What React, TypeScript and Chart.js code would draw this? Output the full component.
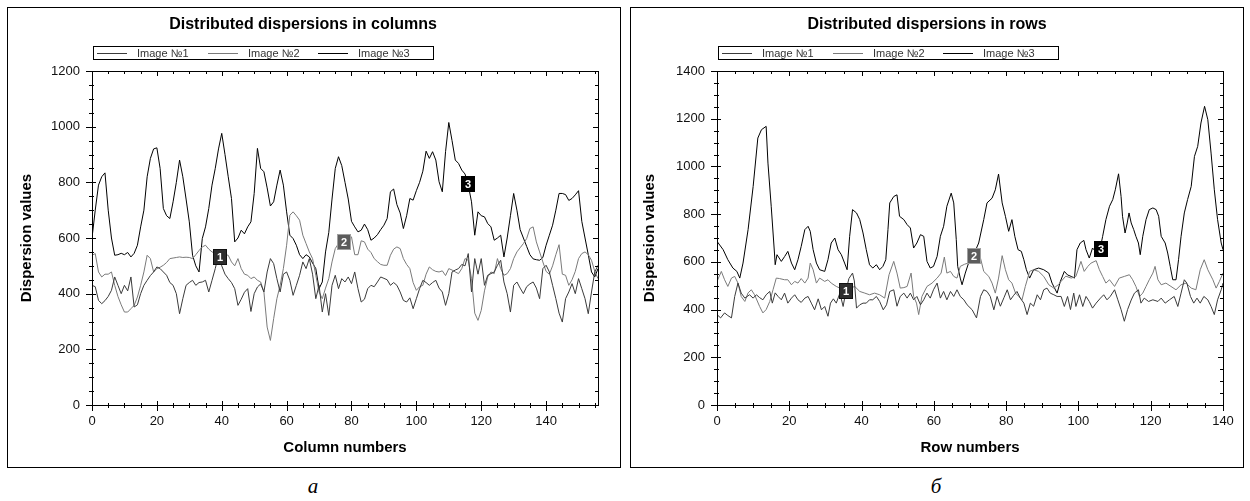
import React, { useEffect, useRef } from 'react';
import { Chart, registerables } from 'chart.js';

Chart.register(...registerables);

// ---------- Left chart: dispersions in columns ----------
const columnNumbers = [
  0, 1, 2, 3, 4, 5, 6, 7, 8, 9, 10, 11, 12, 13, 14, 15, 16, 17, 18, 19,
  20, 21, 22, 23, 24, 25, 26, 27, 28, 29, 30, 31, 32, 33, 34, 35, 36, 37, 38, 39,
  40, 41, 42, 43, 44, 45, 46, 47, 48, 49, 50, 51, 52, 53, 54, 55, 56, 57, 58, 59,
  60, 61, 62, 63, 64, 65, 66, 67, 68, 69, 70, 71, 72, 73, 74, 75, 76, 77, 78, 79,
  80, 81, 82, 83, 84, 85, 86, 87, 88, 89, 90, 91, 92, 93, 94, 95, 96, 97, 98, 99,
  100, 101, 102, 103, 104, 105, 106, 107, 108, 109, 110, 111, 112, 113, 114, 115, 116, 117, 118, 119,
  120, 121, 122, 123, 124, 125, 126, 127, 128, 129, 130, 131, 132, 133, 134, 135, 136, 137, 138, 139,
  140, 141, 142, 143, 144, 145, 146, 147, 148, 149, 150, 151, 152, 153, 154, 155, 156,
];

const colImage1 = [
  430, 425, 376, 364, 375, 390, 412, 460, 430, 400,
  430, 410, 460, 352, 360, 400, 430, 448, 465, 478,
  496, 490, 478, 466, 440, 430, 400, 328, 382, 430,
  440, 448, 430, 440, 442, 448, 406, 448, 490, 540,
  500, 470, 454, 440, 418, 358, 380, 405, 418, 336,
  400, 424, 435, 406, 478, 526, 508, 454, 406, 470,
  478, 448, 394, 430, 466, 514, 490, 526, 470, 382,
  430, 334, 400, 322, 430, 466, 418, 454, 442, 460,
  436, 478, 418, 370, 380, 418, 430, 425, 442, 460,
  455, 450, 430, 440, 430, 406, 376, 370, 385, 346,
  382, 418, 448, 440, 430, 440, 448, 420, 406, 358,
  400, 478, 485, 490, 505, 500, 544, 406, 526, 470,
  526, 430, 466, 472, 478, 502, 520, 442, 400, 334,
  430, 442, 420, 400, 425, 435, 442, 420, 382, 490,
  502, 478, 430, 382, 330, 298, 382, 406, 436, 400,
  454, 418, 382, 328, 406, 478, 502,
];

const colImage2 = [
  538, 544, 478, 460, 470, 470, 478, 430, 390, 360,
  334, 334, 346, 358, 388, 430, 478, 538, 526, 478,
  490, 495, 502, 512, 526, 528, 530, 532, 530, 531,
  530, 526, 540, 555, 568, 574, 560, 550, 545, 540,
  535, 540, 538, 514, 500, 526, 490, 470, 466, 454,
  460, 448, 442, 406, 280, 232, 310, 382, 430, 490,
  574, 682, 694, 680, 664, 610, 580, 550, 526, 466,
  406, 382, 420, 454, 514, 562, 580, 585, 590, 600,
  604, 540, 540, 590, 586, 560, 548, 526, 515, 505,
  502, 502, 538, 560, 568, 562, 526, 505, 490, 440,
  412, 425, 430, 470, 496, 486, 480, 478, 482, 465,
  490, 485, 478, 472, 490, 526, 520, 454, 330, 304,
  340, 410, 460, 478, 472, 526, 490, 466, 472, 490,
  526, 550, 565, 580, 598, 634, 640, 586, 550, 514,
  480, 470, 500, 540, 576, 470, 466, 430, 450, 480,
  526, 544, 550, 540, 520, 480, 454,
];

const colImage3 = [
  600, 700, 790, 820, 834, 700, 600, 538, 540, 545,
  540, 548, 532, 545, 574, 640, 700, 820, 886, 920,
  924, 850, 706, 680, 670, 730, 800, 880, 820, 740,
  658, 538, 500, 478, 598, 640, 706, 790, 850, 920,
  976, 900, 820, 742, 586, 600, 628, 615, 640, 658,
  760, 922, 850, 838, 780, 715, 730, 790, 844, 790,
  694, 610, 598, 574, 540, 526, 540, 532, 510, 490,
  418, 442, 550, 620, 740, 850, 892, 860, 800, 740,
  660, 640, 622, 628, 650, 630, 592, 600, 612, 630,
  646, 670, 766, 776, 720, 690, 634, 680, 742, 736,
  770, 800, 840, 912, 886, 910, 880, 802, 766, 910,
  1015, 950, 880, 868, 844, 830, 790, 730, 610, 694,
  680, 676, 652, 640, 592, 600, 610, 532, 600, 680,
  760, 700, 630, 600, 570, 540, 525, 522, 520, 530,
  574, 610, 646, 700, 760, 760, 756, 735, 742, 755,
  770, 660, 600, 540, 478, 460, 490,
];

const colMarkX = [39.4, 77.7, 115.9];
const colMarkY = [532, 586, 794];

// ---------- Right chart: dispersions in rows ----------
const rowX1 = [
  0, 1, 2.1, 3, 4, 4.9, 5.8, 6.7, 7.7, 9, 10, 10.9, 11.8, 12.7, 13.6, 14.6, 15.3, 16.1, 16.9, 17.8,
  18.7, 19.6, 20.6, 21.5, 22.4, 23.3, 24.3, 25.2, 26.1, 27, 28, 28.9, 29.8, 30.7, 31.4, 32.2, 33, 34, 34.9, 35.7,
  36.5, 37.5, 38, 38.6, 39.5, 40.4, 41.3, 42.2, 43.1, 44.1, 45, 46, 46.9, 47.8, 48.9, 49.8, 50.7, 51.7, 52.6, 53.5,
  54.4, 55.3, 56.3, 57.2, 58.1, 59, 59.9, 60.9, 61.8, 62.7, 63.6, 64.6, 65.5, 66.4, 67.3, 68.3, 69.2, 70.6, 71.8, 72.9,
  73.8, 74.7, 75.6, 76.6, 77.5, 78.4, 79.4, 80.3, 81.2, 82.1, 83, 83.9, 84.9, 85.8, 86.7, 87.6, 88.6, 89.5, 90.4, 91.3,
  92.2, 93.2, 94.1, 95.2, 96.1, 97, 97.8, 98.7, 99.3, 100.3, 101.2, 102.1, 103, 103.9, 104.9, 106.1, 107, 107.9, 108.8, 110,
  110.9, 111.8, 112.7, 113.6, 114.6, 115.5, 116.6, 117.3, 118.2, 119.4, 120.6, 122, 122.9, 124, 125.2, 126.5, 127.5, 128.4, 129.3, 130,
  131, 131.9, 132.8, 133.7, 134.7, 135.8, 136.7, 137.6, 138.5, 139.5, 140,
];
const rowY1 = [
  379, 365, 386, 375, 365, 455, 511, 469, 448, 462, 448, 462, 450, 441, 462, 476, 427, 470, 455, 441,
  469, 427, 448, 462, 441, 430, 448, 455, 427, 399, 445, 399, 413, 372, 427, 445, 427, 469, 413, 480,
  530, 553, 520, 406, 420, 427, 427, 441, 441, 455, 434, 399, 420, 476, 483, 414, 455, 469, 448, 469,
  441, 455, 420, 441, 469, 448, 483, 511, 448, 476, 441, 476, 455, 483, 455, 441, 420, 399, 365, 455,
  483, 476, 455, 399, 455, 414, 450, 483, 441, 460, 476, 448, 427, 379, 427, 414, 462, 441, 483, 490,
  469, 462, 455, 455, 413, 455, 400, 469, 413, 462, 413, 455, 434, 406, 427, 448, 462, 441, 455, 483,
  441, 400, 351, 400, 440, 469, 483, 427, 448, 434, 441, 434, 448, 427, 441, 455, 413, 469, 525, 511,
  455, 427, 448, 427, 455, 441, 413, 379, 441, 483, 511,
];

const rowX2 = [
  0, 1.2, 2.1, 3, 4, 4.9, 5.8, 6.7, 7.7, 8.6, 9.5, 10.4, 11.8, 12.7, 13.6, 14.6, 15.5, 16.4, 17.3, 18.7,
  19.6, 20.6, 21.5, 22.4, 23.3, 24.3, 25.2, 25.8, 26.6, 27.5, 28.4, 29.8, 30.7, 31.6, 33, 34, 35, 36, 37, 38.1,
  39.5, 40.9, 42.2, 43.6, 45, 46.4, 47.6, 48.9, 49.8, 50.7, 51.7, 52.6, 53.7, 54.4, 55.2, 55.8, 56.7, 58.1, 59.5, 60.9,
  62, 62.9, 63.6, 64.6, 65.5, 66.4, 67.3, 68.5, 69.5, 71, 72.9, 73.8, 75.2, 76.1, 77, 77.9, 78.9, 79.8, 80.7, 81.6,
  82.6, 83.5, 84.4, 85.3, 86.5, 87.6, 89, 90.4, 91.8, 93.2, 94.5, 95.2, 96.5, 98, 99.3, 100.7, 101.6, 102.6, 103.5, 104.9,
  105.8, 106.7, 107.6, 108.6, 110, 111.3, 112.7, 114.1, 115, 115.9, 116.9, 117.8, 118.7, 119.6, 120.6, 121.2, 122, 122.9, 124.2, 125.6,
  127, 128.4, 129.8, 131.2, 132.5, 133.7, 134.8, 135.8, 137.2, 138.1, 139, 140,
];
const rowY2 = [
  518, 560, 525, 497, 532, 539, 511, 455, 434, 470, 483, 462, 413, 386, 400, 434, 483, 532, 530, 525,
  525, 504, 518, 511, 530, 511, 532, 595, 567, 511, 532, 518, 525, 511, 497, 490, 488, 484, 490, 497,
  476, 469, 462, 469, 462, 448, 546, 602, 553, 490, 492, 497, 553, 455, 427, 379, 455, 497, 511, 532,
  553, 620, 553, 560, 539, 532, 581, 590, 595, 605, 616, 560, 539, 511, 469, 532, 626, 567, 525, 511,
  469, 455, 441, 497, 560, 567, 560, 539, 504, 490, 505, 518, 540, 532, 539, 602, 560, 581, 595, 605,
  567, 539, 511, 525, 497, 532, 539, 546, 525, 497, 455, 469, 497, 525, 553, 581, 525, 504, 511, 497,
  483, 504, 511, 490, 483, 567, 609, 567, 525, 490, 518, 553,
];

const rowX3 = [
  0, 1.7, 3, 4.4, 5.5, 6.3, 7.2, 8.6, 10, 11.3, 12.3, 13.6, 14.1, 15, 15.9, 16.1, 16.6, 17.8, 18.7, 19.6,
  20.6, 21.5, 22.4, 23.3, 24.3, 25.2, 25.8, 26.6, 27.5, 28.4, 29.8, 30.7, 31.6, 32.6, 33.5, 34.4, 35.3, 36, 36.7, 37.5,
  38.6, 39.5, 40.4, 41.3, 42.2, 43.1, 44.1, 45, 45.9, 46.7, 47.3, 47.8, 48.9, 49.8, 50.5, 51.7, 52.6, 53.5, 54.4, 55.3,
  56.3, 57.2, 58.1, 59, 59.9, 60.9, 61.8, 62.7, 63.6, 64.8, 65.5, 66.2, 66.6, 67.3, 67.8, 68.7, 69.6, 71, 72.4, 73.8,
  74.7, 76.1, 77, 77.9, 78.9, 79.8, 80.7, 81.6, 82.4, 83.3, 84.2, 84.9, 85.6, 86.5, 87.6, 89, 90.4, 91.8, 92.7, 94.1,
  95, 96.1, 97, 98, 98.9, 99.6, 100.5, 101.5, 102.1, 103, 103.9, 105, 106, 106.7, 107.6, 108.6, 109.5, 110.2, 111.1, 111.8,
  112.2, 112.9, 113.5, 114, 114.6, 115.3, 115.9, 116.6, 117.1, 117.8, 118.7, 119.6, 120.6, 121.5, 122.2, 122.9, 124, 124.7, 125.4, 126.1,
  127, 127.7, 128.4, 129.3, 130.2, 131.2, 132.1, 133, 133.9, 134.9, 135.8, 136.7, 137.6, 138.5, 139.5, 140,
];
const rowY3 = [
  686, 651, 609, 574, 560, 532, 595, 735, 916, 1119, 1154, 1168, 1014, 833, 637, 588, 630, 602, 622, 644,
  595, 567, 609, 665, 735, 749, 728, 651, 595, 567, 560, 609, 679, 700, 651, 630, 595, 567, 707, 819,
  805, 777, 721, 651, 588, 574, 588, 567, 581, 609, 735, 847, 874, 881, 791, 777, 756, 742, 658, 679,
  714, 707, 602, 574, 581, 623, 707, 749, 833, 888, 847, 693, 581, 532, 504, 553, 595, 630, 679, 777,
  847, 867, 902, 968, 847, 791, 728, 777, 707, 651, 644, 609, 567, 532, 567, 574, 567, 553, 511, 469,
  518, 560, 545, 539, 532, 651, 679, 690, 651, 616, 658, 640, 654, 707, 777, 833, 861, 902, 969, 874,
  791, 721, 763, 805, 763, 735, 707, 679, 630, 707, 777, 819, 826, 819, 791, 707, 679, 637, 581, 525,
  525, 609, 707, 805, 861, 916, 1042, 1084, 1182, 1252, 1196, 1056, 902, 777, 679, 651,
];

const rowMarkX = [35.7, 71.1, 106.3];
const rowMarkY = [478, 624, 654];

const seriesLabels = ['Image №1', 'Image №2', 'Image №3'];
const seriesColors = ['#3a3a3a', '#7a7a7a', '#000000'];
const markFill = ['#2e2e2e', '#5c5c5c', '#000000'];
const markStroke = ['#111111', '#a0a0a0', '#000000'];

const FONT = '"Liberation Sans", Arial, sans-serif';

const decorPlugin = {
  id: 'decor',
  afterDatasetsDraw(chart: any, _args: any, opts: any) {
    const { ctx, chartArea: a, scales } = chart;
    const xs = scales.x;
    const ys = scales.y;
    ctx.save();
    ctx.strokeStyle = '#000';
    ctx.lineWidth = 1;
    ctx.strokeRect(a.left + 0.5, a.top + 0.5, a.right - a.left, a.bottom - a.top);
    ctx.beginPath();
    for (let v = 0; v <= opts.xMax + 0.001; v += 5) {
      const major = v % 20 === 0;
      const px = Math.round(xs.getPixelForValue(v)) + 0.5;
      ctx.moveTo(px, a.bottom - (major ? 4 : 2));
      ctx.lineTo(px, a.bottom + (major ? 6 : 3));
      ctx.moveTo(px, a.top);
      ctx.lineTo(px, a.top + (major ? 5 : 3));
    }
    for (let v = 0; v <= opts.yMax + 0.001; v += 50) {
      const major = v % 200 === 0;
      const py = Math.round(ys.getPixelForValue(v)) + 0.5;
      ctx.moveTo(a.left - (major ? 6 : 3), py);
      ctx.lineTo(a.left + (major ? 4 : 2), py);
      ctx.moveTo(a.right - (major ? 5 : 3), py);
      ctx.lineTo(a.right + 1, py);
    }
    ctx.stroke();

    // numbered markers on the curves
    ctx.font = `bold 11px ${FONT}`;
    ctx.textAlign = 'center';
    ctx.textBaseline = 'middle';
    for (let i = 0; i < opts.markX.length; i++) {
      const cx = Math.round(xs.getPixelForValue(opts.markX[i]));
      const cy = Math.round(ys.getPixelForValue(opts.markY[i]));
      const w = 14;
      const h = 16;
      ctx.fillStyle = markFill[i];
      ctx.fillRect(cx - 7, cy - 8, w, h);
      ctx.strokeStyle = markStroke[i];
      ctx.strokeRect(cx - 7 + 0.5, cy - 8 + 0.5, w - 1, h - 1);
      ctx.fillStyle = '#fff';
      ctx.fillText(String(i + 1), cx, cy + 1);
    }

    // boxed legend
    const lx = a.left + 1;
    const ly = a.top - 25;
    ctx.strokeStyle = '#000';
    ctx.lineWidth = 1;
    ctx.strokeRect(lx + 0.5, ly + 0.5, 340, 13);
    ctx.font = `11px ${FONT}`;
    ctx.textAlign = 'left';
    ctx.textBaseline = 'middle';
    const offs = [4, 115, 225];
    for (let i = 0; i < 3; i++) {
      const sx = lx + offs[i];
      ctx.strokeStyle = seriesColors[i];
      ctx.beginPath();
      ctx.moveTo(sx, ly + 7.5);
      ctx.lineTo(sx + 30, ly + 7.5);
      ctx.stroke();
      ctx.fillStyle = '#333';
      ctx.fillText(seriesLabels[i], sx + 40, ly + 8);
    }
    ctx.restore();
  },
};

type Panel = {
  title: string;
  xTitle: string;
  xMax: number;
  yMax: number;
  xsList: number[][];
  ysList: number[][];
  markX: number[];
  markY: number[];
  yAxisWidth: number;
  rightPad: number;
};

function ChartPanel({ p }: { p: Panel }) {
  const ref = useRef<HTMLCanvasElement | null>(null);
  useEffect(() => {
    if (!ref.current) return;
    const datasets = [0, 1, 2].map((i) => ({
      label: seriesLabels[i],
      data: p.xsList[i].map((xv, k) => ({ x: xv, y: p.ysList[i][k] })),
      borderColor: seriesColors[i],
      borderWidth: 1,
      pointRadius: 0,
      tension: 0,
      fill: false,
    }));
    const chart = new Chart(ref.current, {
      type: 'line',
      data: { datasets },
      plugins: [decorPlugin],
      options: {
        responsive: false,
        animation: false,
        devicePixelRatio: 1,
        layout: { padding: { left: 0, right: p.rightPad, top: 0, bottom: 0 } },
        plugins: {
          legend: { display: false },
          tooltip: { enabled: false },
          title: {
            display: true,
            text: p.title,
            color: '#000',
            font: { family: FONT, size: 16, weight: 'bold', lineHeight: 1.2 },
            padding: { top: 7.4, bottom: 36.4 },
          },
          decor: { xMax: p.xMax, yMax: p.yMax, markX: p.markX, markY: p.markY },
        } as any,
        scales: {
          x: {
            type: 'linear',
            min: 0,
            max: p.xMax,
            grid: { display: false, drawTicks: false },
            border: { display: false },
            afterBuildTicks: (s: any) => {
              s.ticks = s.ticks.filter((t: any) => t.value % 20 === 0);
            },
            afterFit: (s: any) => {
              s.height = 62;
            },
            ticks: {
              stepSize: 20,
              padding: 9,
              color: '#111',
              maxRotation: 0,
              font: { family: FONT, size: 13 },
              callback: (v: any) => String(v),
            },
            title: {
              display: true,
              text: p.xTitle,
              color: '#000',
              font: { family: FONT, size: 15, weight: 'bold', lineHeight: 1.2 },
              padding: { top: 0, bottom: 10 },
            },
          },
          y: {
            type: 'linear',
            min: 0,
            max: p.yMax,
            grid: { display: false, drawTicks: false },
            border: { display: false },
            afterFit: (s: any) => {
              s.width = p.yAxisWidth;
            },
            ticks: {
              stepSize: 200,
              padding: 12,
              color: '#111',
              font: { family: FONT, size: 13 },
              callback: (v: any) => String(v),
            },
            title: {
              display: true,
              text: 'Dispersion values',
              color: '#000',
              font: { family: FONT, size: 15, weight: 'bold', lineHeight: 1.2 },
              padding: { top: 10, bottom: 0 },
            },
          },
        },
      } as any,
    });
    return () => chart.destroy();
  }, [p]);
  return <canvas ref={ref} width={612} height={459} style={{ display: 'block' }} />;
}

const leftPanel: Panel = {
  title: 'Distributed dispersions in columns',
  xTitle: 'Column numbers',
  xMax: 156,
  yMax: 1200,
  xsList: [columnNumbers, columnNumbers, columnNumbers],
  ysList: [colImage1, colImage2, colImage3],
  markX: colMarkX,
  markY: colMarkY,
  yAxisWidth: 84,
  rightPad: 22,
};

const rightPanel: Panel = {
  title: 'Distributed dispersions in rows',
  xTitle: 'Row numbers',
  xMax: 140,
  yMax: 1400,
  xsList: [rowX1, rowX2, rowX3],
  ysList: [rowY1, rowY2, rowY3],
  markX: rowMarkX,
  markY: rowMarkY,
  yAxisWidth: 86,
  rightPad: 20,
};

export default function App() {
  const box: React.CSSProperties = {
    position: 'absolute',
    top: 7,
    width: 612,
    height: 459,
    border: '1px solid #000',
    background: '#fff',
  };
  const cap: React.CSSProperties = {
    position: 'absolute',
    top: 474,
    width: 40,
    textAlign: 'center',
    fontFamily: '"Liberation Serif", "Times New Roman", serif',
    fontStyle: 'italic',
    fontSize: 21,
    lineHeight: '24px',
    color: '#000',
  };
  return (
    <div style={{ position: 'absolute', left: 0, top: 0, width: 1250, height: 501, background: '#fff', overflow: 'hidden' }}>
      <div style={{ ...box, left: 7 }}>
        <ChartPanel p={leftPanel} />
      </div>
      <div style={{ ...box, left: 630 }}>
        <ChartPanel p={rightPanel} />
      </div>
      <div style={{ ...cap, left: 293 }}>a</div>
      <div style={{ ...cap, left: 916 }}>б</div>
    </div>
  );
}
